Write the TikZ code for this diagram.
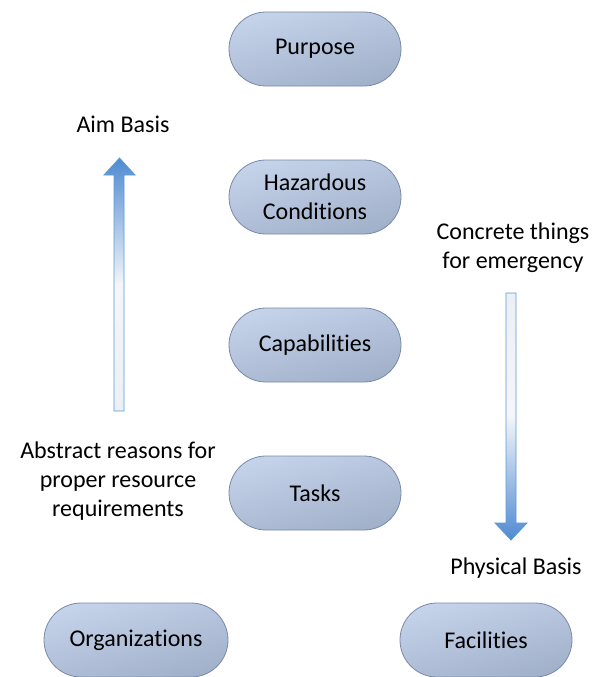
\documentclass[tikz,border=0pt]{standalone}
\usepackage{fontspec}
\setmainfont{Carlito}[RawFeature={-liga;-dlig;-clig}]
\definecolor{ntop}{RGB}{196,211,234}
\definecolor{nbot}{RGB}{162,177,202}
\definecolor{nline}{RGB}{120,138,168}
\definecolor{adark}{RGB}{80,138,210}
\definecolor{alight}{RGB}{236,239,245}
\definecolor{aline}{RGB}{91,155,213}
\begin{document}
\begin{tikzpicture}[x=1pt,y=-1pt,
  pill/.style={draw=nline,line width=0.8pt,rounded corners=37pt,minimum width=172pt,minimum height=74pt,
    shading=axis,top color=ntop,bottom color=nbot,shading angle=15,font=\fontsize{24}{29}\selectfont,align=center,inner sep=0pt},
  lbl/.style={font=\fontsize{24}{29}\selectfont,align=center,inner sep=0pt},
  bigarrow/.style={draw=aline,line width=0.8pt}]
\useasboundingbox (0,0) rectangle (602,677);
\node[pill] (purpose) at (315,49) {Purpose};
\node[pill] (haz) at (315,197) {Hazardous\\Conditions};
\node[pill] (cap) at (315,345) {Capabilities};
\node[pill] (tasks) at (315,493) {Tasks};
\node[pill,minimum width=184pt] (org) at (136,640) {Organizations};
\node[pill] (fac) at (486,640) {Facilities};
\node[lbl] (aim) at (123,124) {Aim Basis};
\node[lbl] (conc) at (513,248) {Concrete things\\for emergency};
\node[lbl] (abs) at (118,481) {Abstract reasons for\\proper resource\\requirements};
\node[lbl] (phys) at (516,568) {Physical Basis};
% up arrow
\path[bigarrow,top color=adark,bottom color=alight,middle color=alight!60!white]
  (114,411) -- (114,175) -- (104,175) -- (119.5,158) -- (135,175) -- (124,175) -- (124,411) -- cycle;
% down arrow
\path[bigarrow,bottom color=adark,top color=alight,middle color=alight!60!white]
  (506,293) -- (506,523) -- (495,523) -- (511,540) -- (527,523) -- (516,523) -- (516,293) -- cycle;
\end{tikzpicture}
\end{document}
